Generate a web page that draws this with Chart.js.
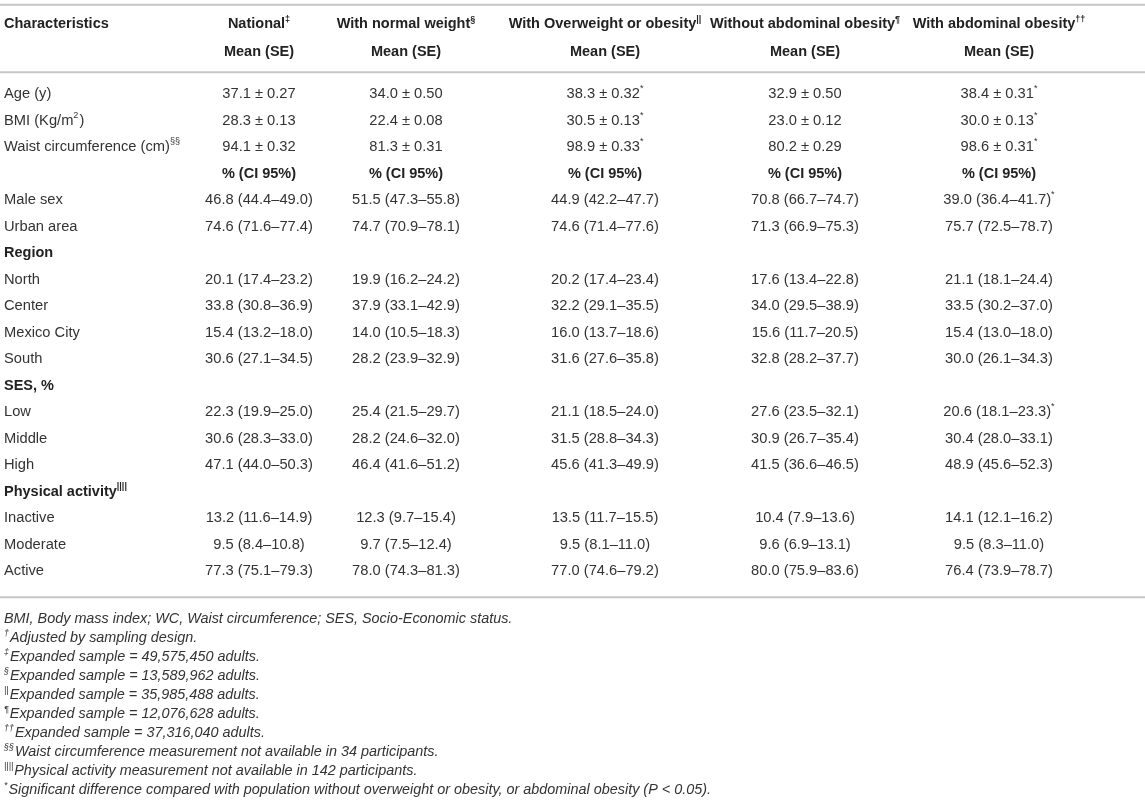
<!DOCTYPE html>
<html>
<head>
<meta charset="utf-8">
<script src="https://cdn.jsdelivr.net/npm/chart.js@4/dist/chart.umd.min.js"></script>
<style>
html, body { margin: 0; padding: 0; background: #fff; }
#marco { position: relative; width: 1145px; height: 801px; }
</style>
</head>
<body>
<div id="marco"><canvas id="tabla"></canvas></div>
<script>
// ^{...} marca un superindice
const columnas = ['Characteristics', 'National^{‡}', 'With normal weight^{§}', 'With Overweight or obesity^{||}', 'Without abdominal obesity^{¶}', 'With abdominal obesity^{††}'];
const subtitulo = 'Mean (SE)';
const subtituloPct = '% (CI 95%)';

const filas = ['Age (y)', 'BMI (Kg/m^{2})', 'Waist circumference (cm)^{§§}', '', 'Male sex', 'Urban area',
    'Region', 'North', 'Center', 'Mexico City', 'South',
    'SES, %', 'Low', 'Middle', 'High',
    'Physical activity^{||||}', 'Inactive', 'Moderate', 'Active'];
const tipoFila = ['media', 'media', 'media', 'cabecera', 'pct', 'pct',
    'seccion', 'pct', 'pct', 'pct', 'pct',
    'seccion', 'pct', 'pct', 'pct',
    'seccion', 'pct', 'pct', 'pct'];

// media, error estandar
const nacionalMedia = [[37.1, 0.27], [28.3, 0.13], [94.1, 0.32]];
const normalMedia = [[34.0, 0.50], [22.4, 0.08], [81.3, 0.31]];
const sobrepesoMedia = [[38.3, 0.32], [30.5, 0.13], [98.9, 0.33]];
const sinAbdMedia = [[32.9, 0.50], [23.0, 0.12], [80.2, 0.29]];
const conAbdMedia = [[38.4, 0.31], [30.0, 0.13], [98.6, 0.31]];

// porcentaje, IC inferior, IC superior
const nacionalPct = [[46.8, 44.4, 49.0], [74.6, 71.6, 77.4], [20.1, 17.4, 23.2], [33.8, 30.8, 36.9], [15.4, 13.2, 18.0], [30.6, 27.1, 34.5],
    [22.3, 19.9, 25.0], [30.6, 28.3, 33.0], [47.1, 44.0, 50.3], [13.2, 11.6, 14.9], [9.5, 8.4, 10.8], [77.3, 75.1, 79.3]];
const normalPct = [[51.5, 47.3, 55.8], [74.7, 70.9, 78.1], [19.9, 16.2, 24.2], [37.9, 33.1, 42.9], [14.0, 10.5, 18.3], [28.2, 23.9, 32.9],
    [25.4, 21.5, 29.7], [28.2, 24.6, 32.0], [46.4, 41.6, 51.2], [12.3, 9.7, 15.4], [9.7, 7.5, 12.4], [78.0, 74.3, 81.3]];
const sobrepesoPct = [[44.9, 42.2, 47.7], [74.6, 71.4, 77.6], [20.2, 17.4, 23.4], [32.2, 29.1, 35.5], [16.0, 13.7, 18.6], [31.6, 27.6, 35.8],
    [21.1, 18.5, 24.0], [31.5, 28.8, 34.3], [45.6, 41.3, 49.9], [13.5, 11.7, 15.5], [9.5, 8.1, 11.0], [77.0, 74.6, 79.2]];
const sinAbdPct = [[70.8, 66.7, 74.7], [71.3, 66.9, 75.3], [17.6, 13.4, 22.8], [34.0, 29.5, 38.9], [15.6, 11.7, 20.5], [32.8, 28.2, 37.7],
    [27.6, 23.5, 32.1], [30.9, 26.7, 35.4], [41.5, 36.6, 46.5], [10.4, 7.9, 13.6], [9.6, 6.9, 13.1], [80.0, 75.9, 83.6]];
const conAbdPct = [[39.0, 36.4, 41.7], [75.7, 72.5, 78.7], [21.1, 18.1, 24.4], [33.5, 30.2, 37.0], [15.4, 13.0, 18.0], [30.0, 26.1, 34.3],
    [20.6, 18.1, 23.3], [30.4, 28.0, 33.1], [48.9, 45.6, 52.3], [14.1, 12.1, 16.2], [9.5, 8.3, 11.0], [76.4, 73.9, 78.7]];

// diferencias significativas (*)
const sobrepesoSigMedia = [true, true, true];
const sobrepesoSigPct = [];
const conAbdSigMedia = [true, true, true];
const conAbdSigPct = [0, 6];

const notas = [
    'BMI, Body mass index; WC, Waist circumference; SES, Socio-Economic status.',
    '^{†}Adjusted by sampling design.',
    '^{‡}Expanded sample = 49,575,450 adults.',
    '^{§}Expanded sample = 13,589,962 adults.',
    '^{||}Expanded sample = 35,985,488 adults.',
    '^{¶}Expanded sample = 12,076,628 adults.',
    '^{††}Expanded sample = 37,316,040 adults.',
    '^{§§}Waist circumference measurement not available in 34 participants.',
    '^{||||}Physical activity measurement not available in 142 participants.',
    '^{*}Significant difference compared with population without overweight or obesity, or abdominal obesity (P < 0.05).'
];

// disposicion
const FUENTE = '"Liberation Sans", Arial, Helvetica, sans-serif';
const TAM = 14.5;
const TAM_CELDA = 14.7;
const TAM_NOTA = 14.4;
const posColumna = [4, 259, 406, 605, 805, 999];
const colorTexto = '#333';
const colorLinea = '#c6c6c6';

const grupos = [
    { media: nacionalMedia, pct: nacionalPct, sigMedia: [], sigPct: [] },
    { media: normalMedia, pct: normalPct, sigMedia: [], sigPct: [] },
    { media: sobrepesoMedia, pct: sobrepesoPct, sigMedia: sobrepesoSigMedia, sigPct: sobrepesoSigPct },
    { media: sinAbdMedia, pct: sinAbdPct, sigMedia: [], sigPct: [] },
    { media: conAbdMedia, pct: conAbdPct, sigMedia: conAbdSigMedia, sigPct: conAbdSigPct }
];

function limpiar(txt) {
    return txt.replace(/\^\{([^}]*)\}/g, '$1');
}

function textosGrupo(g) {
    let iPct = 0;
    return tipoFila.map((tipo, i) => {
        if (tipo === 'media') {
            const [m, se] = g.media[i];
            return `${m.toFixed(1)} ± ${se.toFixed(2)}` + (g.sigMedia[i] ? '^{*}' : '');
        }
        if (tipo === 'cabecera') return subtituloPct;
        if (tipo === 'pct') {
            const k = iPct++;
            const [p, lo, hi] = g.pct[k];
            return `${p.toFixed(1)} (${lo.toFixed(1)}–${hi.toFixed(1)})` + (g.sigPct.includes(k) ? '^{*}' : '');
        }
        return '';
    });
}

function partes(txt) {
    const res = [];
    const re = /\^\{([^}]*)\}/g;
    let ultimo = 0, m;
    while ((m = re.exec(txt))) {
        if (m.index > ultimo) res.push({ t: txt.slice(ultimo, m.index), sup: false });
        res.push({ t: m[1], sup: true });
        ultimo = re.lastIndex;
    }
    if (ultimo < txt.length) res.push({ t: txt.slice(ultimo), sup: false });
    return res;
}

function fuente(f, tam) {
    return `${f.estilo || 'normal'} ${f.peso || 'normal'} ${tam}px ${FUENTE}`;
}

function dibujarTexto(ctx, txt, x, y, alinear, f) {
    const trozos = partes(txt);
    const tamSup = f.tam * 0.62;
    let total = 0;
    trozos.forEach(p => {
        ctx.font = fuente(f, p.sup ? tamSup : f.tam);
        p.w = ctx.measureText(p.t).width;
        total += p.w;
    });
    let cx = alinear === 'center' ? x - total / 2 : x;
    ctx.textAlign = 'left';
    ctx.textBaseline = 'middle';
    ctx.fillStyle = f.color || colorTexto;
    trozos.forEach(p => {
        ctx.font = fuente(f, p.sup ? tamSup : f.tam);
        ctx.fillText(p.t, cx, p.sup ? y - f.tam * 0.36 : y);
        cx += p.w + (p.sup ? 1 : 0);
    });
}

function linea(ctx, area, y) {
    ctx.save();
    ctx.strokeStyle = colorLinea;
    ctx.lineWidth = 2;
    ctx.beginPath();
    ctx.moveTo(area.left, y);
    ctx.lineTo(area.right, y);
    ctx.stroke();
    ctx.restore();
}

const celdasPlugin = {
    id: 'celdas',
    afterDatasetsDraw(chart) {
        const ctx = chart.ctx;
        const area = chart.chartArea;
        const ejeY = chart.scales.y;
        const yPrimera = ejeY.getPixelForValue(0);
        const yUltima = ejeY.getPixelForValue(filas.length - 1);
        ctx.save();

        linea(ctx, area, yPrimera - 89.5);
        linea(ctx, area, yPrimera - 22);
        linea(ctx, area, yUltima + 26);

        // cabeceras
        columnas.forEach((c, i) => {
            const x = chart.scales.x.getPixelForValue(posColumna[i]);
            const al = i === 0 ? 'left' : 'center';
            dibujarTexto(ctx, c, x, yPrimera - 70, al, { tam: TAM, peso: 'bold', color: '#222' });
            if (i > 0) dibujarTexto(ctx, subtitulo, x, yPrimera - 42, al, { tam: TAM, peso: 'bold', color: '#222' });
        });

        // celdas de cada columna, en la posicion de sus puntos
        chart.data.datasets.forEach((ds, d) => {
            const meta = chart.getDatasetMeta(d);
            meta.data.forEach((pt, i) => {
                const txt = ds.textos[i];
                if (!txt) return;
                const negrita = tipoFila[i] === 'seccion' || tipoFila[i] === 'cabecera';
                dibujarTexto(ctx, txt, pt.x, pt.y, ds.alinear, {
                    tam: negrita ? TAM : TAM_CELDA, peso: negrita ? 'bold' : 'normal', color: negrita ? '#222' : colorTexto
                });
            });
        });

        // notas al pie
        notas.forEach((n, i) => {
            dibujarTexto(ctx, n, area.left + 4, yUltima + 48 + i * 19, 'left', { tam: TAM_NOTA, estilo: 'italic' });
        });
        ctx.restore();
    }
};

const conjuntos = [{
    label: 'Characteristics',
    data: filas.map((_, i) => ({ x: posColumna[0], y: i })),
    textos: filas,
    alinear: 'left',
    pointRadius: 0
}];
grupos.forEach((g, c) => {
    conjuntos.push({
        label: limpiar(columnas[c + 1]),
        data: filas.map((_, i) => ({ x: posColumna[c + 1], y: i })),
        textos: textosGrupo(g),
        alinear: 'center',
        pointRadius: 0
    });
});

new Chart(document.getElementById('tabla'), {
    type: 'scatter',
    data: { labels: filas.map(limpiar), datasets: conjuntos },
    options: {
        responsive: true,
        maintainAspectRatio: false,
        animation: false,
        events: [],
        layout: { padding: { top: 81, bottom: 216.5, left: 0, right: 0 } },
        plugins: { legend: { display: false }, tooltip: { enabled: false } },
        scales: {
            x: { type: 'linear', min: 0, max: 1145, display: false },
            y: { type: 'category', labels: filas.map(limpiar), offset: true, display: false }
        }
    },
    plugins: [celdasPlugin]
});
</script>
</body>
</html>
